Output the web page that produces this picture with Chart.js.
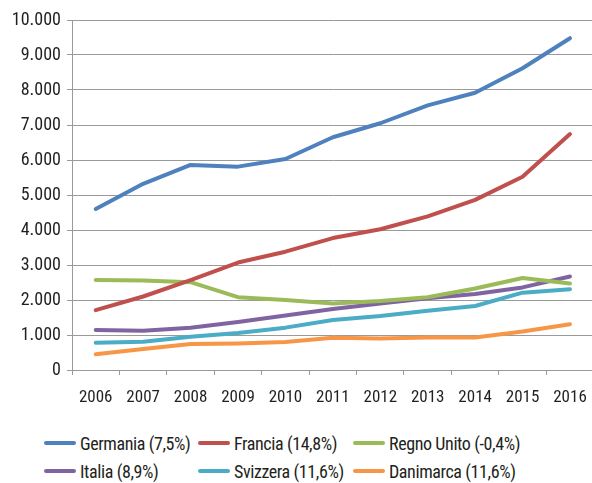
<!DOCTYPE html>
<html>
<head>
<meta charset="utf-8">
<script src="https://cdn.jsdelivr.net/npm/chart.js@4/dist/chart.umd.min.js"></script>
<style>
  html, body { margin: 0; padding: 0; background: #fff; overflow: hidden; width: 592px; height: 483px; }
  #wrap { position: absolute; left: 0; top: 0; width: 600px; height: 410px; }
  #legend {
    position: absolute; left: 0; top: 430px; width: 592px;
    font-family: Roboto, sans-serif; font-stretch: condensed;
    font-size: 18px; letter-spacing: -0.4px; color: #231f20;
  }
  .item { position: absolute; display: flex; align-items: center; white-space: nowrap; height: 24px; }
  .swatch { width: 32px; height: 4px; border-radius: 2px; margin-right: 4px; }
</style>
</head>
<body>
<div id="wrap"><canvas id="chart"></canvas></div>
<div id="legend"></div>
<script>
const years = ['2006', '2007', '2008', '2009', '2010', '2011', '2012', '2013', '2014', '2015', '2016']

const germania   = [4600, 5320, 5860, 5810, 6030, 6650, 7050, 7560, 7920, 8620, 9480]
const francia    = [1710, 2100, 2570, 3070, 3380, 3770, 4020, 4390, 4860, 5520, 6740]
const regnoUnito = [2570, 2560, 2510, 2080, 2000, 1900, 1970, 2080, 2330, 2630, 2470]
const italia     = [1140, 1120, 1210, 1370, 1560, 1740, 1900, 2050, 2170, 2360, 2670]
const svizzera   = [780, 810, 950, 1060, 1210, 1430, 1540, 1690, 1830, 2210, 2310]
const danimarca  = [450, 600, 740, 760, 800, 920, 900, 930, 930, 1100, 1310]

const labels = ['Germania (7,5%)', 'Francia (14,8%)', 'Regno Unito (-0,4%)', 'Italia (8,9%)', 'Svizzera (11,6%)', 'Danimarca (11,6%)']
const colors = ['#4F81BD', '#C0504D', '#9BBB59', '#8064A2', '#4BACC6', '#F79646']
const series = [germania, francia, regnoUnito, italia, svizzera, danimarca]

// chart.js puts weight before size in the font string, so "condensed" ends up as font-stretch
const X_FONT = { family: 'Roboto', size: 17, weight: 'condensed' }
const Y_FONT = { family: 'Roboto', size: 18, weight: 'condensed' }
const GRID = '#9a9a9a'

const ctx = document.getElementById('chart').getContext('2d')
const chart = new Chart(ctx, {
  type: 'line',
  data: {
    labels: years,
    datasets: series.map((d, i) => ({
      label: labels[i],
      data: d,
      borderColor: colors[i],
      backgroundColor: colors[i],
      borderWidth: 4,
      pointRadius: 0,
      tension: 0,
      borderCapStyle: 'round',
      borderJoinStyle: 'round'
    }))
  },
  options: {
    responsive: true,
    maintainAspectRatio: false,
    animation: false,
    layout: { padding: { top: 20, right: 5, left: 0, bottom: 0 } },
    plugins: {
      legend: { display: false },
      tooltip: { enabled: false }
    },
    scales: {
      x: {
        offset: true,
        afterFit: (s) => { s.height = 40 },
        grid: { offset: true, drawOnChartArea: false, drawTicks: true, tickLength: 5, color: GRID },
        border: { color: GRID, width: 1 },
        ticks: { color: '#231f20', padding: 13, maxRotation: 0, font: X_FONT }
      },
      y: {
        min: 0,
        max: 10000,
        afterFit: (s) => { s.width = 72 },
        grid: { color: GRID, lineWidth: 1, tickLength: 5 },
        border: { color: GRID, width: 1 },
        ticks: {
          stepSize: 1000,
          color: '#231f20',
          padding: 6,
          font: Y_FONT,
          callback: (v) => v === 0 ? '0' : (v / 1000) + '.000'
        }
      }
    }
  }
})

// legend laid out in three columns like the original
const cols = [44, 198, 353]
const rows = [1, 29]
const legend = document.getElementById('legend')
labels.forEach((text, i) => {
  const el = document.createElement('div')
  el.className = 'item'
  el.style.left = cols[i % 3] + 'px'
  el.style.top = rows[Math.floor(i / 3)] + 'px'
  el.innerHTML = '<span class="swatch" style="background:' + colors[i] + '"></span><span>' + text + '</span>'
  legend.appendChild(el)
})
</script>
</body>
</html>
